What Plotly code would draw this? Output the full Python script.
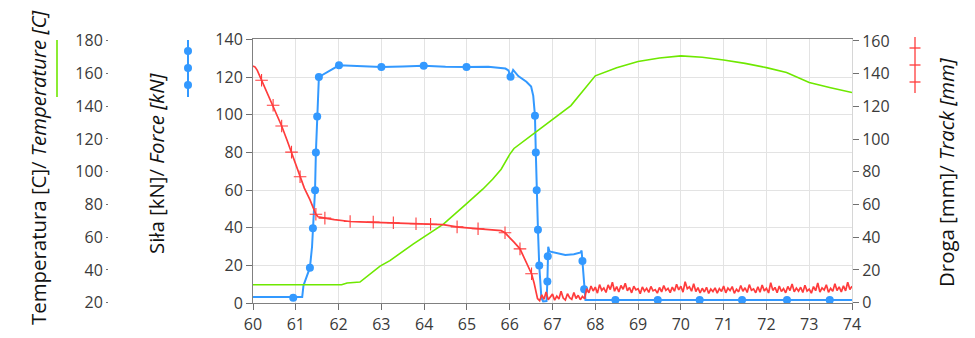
import numpy as np
import plotly.graph_objects as go

W, H = 975, 338

# ---------------- data ----------------
force_t = [60.0, 60.3, 60.6, 60.94, 61.15, 61.18, 61.33, 61.38, 61.40, 61.45, 61.47, 61.50, 61.54,
           62.01, 62.5, 63.0, 63.5, 63.99, 64.5, 64.99, 65.5, 65.9, 65.97, 66.02, 66.08, 66.12, 66.2,
           66.39, 66.5, 66.55, 66.59, 66.61, 66.63, 66.66, 66.69, 66.74, 66.78, 66.86, 66.88, 66.89,
           66.9, 66.93, 67.1, 67.3, 67.5, 67.66, 67.68, 67.7, 67.74, 67.77, 68.47, 69.46, 70.44,
           71.43, 72.48, 73.48, 74.0]
force_v = [3.3, 3.2, 3.4, 3.0, 3.3, 9.5, 18.9, 30, 39.8, 60, 80, 99, 120,
           126.2, 125.6, 125.3, 125.6, 126, 125.5, 125.3, 125.5, 124.5, 123.5, 120.2, 123.8, 122.5, 120.5,
           117.5, 115, 110, 99.5, 80, 60, 39, 20, 3, 1.0, 1.2, 11.5, 25,
           30, 27.5, 26.5, 25.6, 26, 27, 28, 22.4, 7.4, 1.8, 1.7, 1.7, 1.7,
           1.7, 1.7, 1.7, 1.7]
force_marker_t = [60.94, 61.33, 61.40, 61.45, 61.47, 61.50, 61.54, 62.01, 63.0, 63.99, 64.99, 66.02,
                  66.59, 66.61, 66.63, 66.66, 66.69, 66.89, 66.88, 67.7, 67.74, 68.47, 69.46, 70.44,
                  71.43, 72.48, 73.48]
force_marker_v = [3.0, 18.9, 39.8, 60, 80, 99, 120, 126.2, 125.3, 126, 125.3, 120.2,
                  99.5, 80, 60, 39, 20, 25, 11.5, 22.4, 7.4, 1.7, 1.7, 1.7,
                  1.7, 1.7, 1.7]

temp_t = [60.0, 62.07, 62.2, 62.5, 62.97, 63.2, 63.75, 64.45, 64.98, 65.37, 65.6, 65.8, 66.0, 66.1,
          66.6, 67.0, 67.43, 67.7, 68.0, 68.5, 69.0, 69.5, 70.0, 70.5, 71.0, 71.5, 72.0, 72.47,
          72.75, 73.0, 73.5, 74.0]
temp_v = [30.9, 30.9, 32.0, 32.6, 42.3, 45.7, 55.9, 68.0, 80.2, 89.3, 95.4, 101.5, 110.6, 114.2,
          124, 132, 140.4, 149, 158.6, 163.5, 167.3, 169.5, 170.8, 169.9, 168.3, 166.2, 163.6, 160.6,
          157.4, 154.5, 151.3, 148.4]

track_t_smooth = [60.0, 60.05, 60.1, 60.2, 60.3, 60.47, 60.6, 60.67, 60.8, 60.9, 61.0, 61.1, 61.2,
                  61.33, 61.42, 61.47, 61.52, 61.6, 61.72, 61.9, 62.1, 62.27, 62.5, 62.81, 63.0, 63.3,
                  63.82, 64.1, 64.44, 64.8, 65.0, 65.3, 65.5, 65.65, 65.8, 65.89, 66.0, 66.1, 66.24,
                  66.35, 66.45, 66.51, 66.57, 66.62]
track_v_smooth = [144.7, 144, 142, 136, 130, 120.7, 112, 108, 99, 92, 85, 77, 70,
                  63, 57, 54, 52.5, 52, 51.5, 50.8, 50, 49.6, 49.4, 49.2, 49, 48.8,
                  48.2, 48, 47.7, 46.2, 45.8, 45.1, 45, 44.7, 44, 42.7, 40, 37, 32.9,
                  27, 21, 17.7, 12, 6]
# noisy part, sampled every 0.05 s from 66.65 s
track_v_low = [2.5, 1.2, 4.8, 2.0, 6.5, 1.8, 3.5, 5.2, 1.5, 4.0, 2.2, 7.0, 2.8, 1.6, 5.5, 3.0,
               2.0, 6.2, 2.5, 4.5, 1.8, 3.8, 2.4]
track_v_end = [8.5, 6.0, 10.2, 7.1, 9.5, 5.8, 11.0, 7.5, 9.0, 6.2, 10.8, 8.0, 12.5, 7.0, 9.8, 6.5, 10.5, 8.2, 11.8, 7.3,
               9.2, 6.0, 10.0, 7.8, 8.5, 5.5, 9.6, 7.0, 8.8, 6.3, 9.9, 7.2, 8.0, 5.8, 9.3, 6.6, 10.4, 7.5, 8.7, 6.1,
               9.5, 7.0, 11.2, 7.8, 10.0, 6.4, 12.8, 8.5, 9.7, 7.0, 11.5, 6.8, 9.2, 5.9, 8.8, 6.5, 9.4, 5.6, 8.3, 6.8,
               9.0, 5.8, 8.6, 6.9, 10.1, 6.0, 8.9, 7.4, 9.8, 5.7, 8.2, 6.6, 10.5, 7.0, 9.1, 6.2, 11.0, 7.6, 8.4, 6.0,
               9.7, 6.4, 10.8, 7.2, 8.8, 5.9, 12.2, 7.5, 9.3, 6.1, 10.2, 6.8, 8.6, 6.0, 9.9, 7.4, 11.4, 6.6, 8.9, 7.0,
               9.4, 6.2, 10.6, 7.1, 8.3, 5.8, 9.8, 7.3, 12.0, 6.4, 9.0, 7.7, 10.9, 6.3, 8.7, 6.9, 11.6, 7.4, 9.6, 6.5,
               10.3, 7.2, 12.5, 8.0, 10.0]
track_marker_t = [60.2, 60.47, 60.67, 60.9, 61.1, 61.47, 61.68, 62.27, 62.81, 63.28, 63.81, 64.15,
                  64.77, 65.26, 65.89, 66.24, 66.51]

x_ticks = list(range(60, 75))

# sampling grid for the noisy part
t_low = [round(66.65 + 0.05 * i, 2) for i in range(len(track_v_low))]
t_end = [round(67.8 + 0.05 * i, 2) for i in range(len(track_v_end))]
track_t = track_t_smooth + t_low + t_end
track_v = track_v_smooth + track_v_low + track_v_end
track_marker_v = list(np.interp(track_marker_t, track_t_smooth, track_v_smooth))

# ---------------- style ----------------
BLUE = "#3399ff"
RED = "#ff3c3c"
GREEN = "#6ee800"
FONT = "Open Sans"
TICKCOL = "#3a3a3a"

def px(x):
    return x / W

def py(y):
    return 1 - y / H

x0p, x1p = 253, 852
y_top, y_bot = 39.3, 303.3

fig = go.Figure()
fig.add_trace(go.Scatter(x=temp_t, y=temp_v, yaxis="y2", mode="lines",
                         line=dict(color=GREEN, width=1.6), showlegend=False))
fig.add_trace(go.Scatter(x=track_t, y=track_v, yaxis="y3", mode="lines",
                         line=dict(color=RED, width=1.7), showlegend=False))
fig.add_trace(go.Scatter(x=track_marker_t, y=track_marker_v, yaxis="y3", mode="markers",
                         marker=dict(symbol="cross-thin", size=9, line=dict(color=RED, width=1.1)),
                         showlegend=False))
fig.add_trace(go.Scatter(x=force_t, y=force_v, yaxis="y", mode="lines",
                         line=dict(color=BLUE, width=2), showlegend=False))
fig.add_trace(go.Scatter(x=force_marker_t, y=force_marker_v, yaxis="y", mode="markers",
                         marker=dict(color=BLUE, size=8), showlegend=False))

tickfont = dict(family=FONT, size=16, color=TICKCOL)

fig.update_layout(
    width=W, height=H, template="none",
    margin=dict(l=0, r=0, t=0, b=0),
    paper_bgcolor="white", plot_bgcolor="white",
    showlegend=False,
    xaxis=dict(domain=[px(x0p), px(x1p)], range=[60, 74], tickvals=x_ticks,
               ticks="outside", ticklen=6, tickcolor="#707070",
               showgrid=True, gridcolor="#e3e3e3", gridwidth=1,
               showline=True, linecolor="#808080", linewidth=1, mirror=True,
               zeroline=False, tickfont=tickfont, automargin=False),
    yaxis=dict(domain=[py(y_bot), py(y_top)], range=[0, 140], dtick=20, tick0=0,
               ticks="outside", ticklen=6, tickcolor="#707070",
               showgrid=True, gridcolor="#e3e3e3", gridwidth=1,
               showline=True, linecolor="#808080", linewidth=1,
               zeroline=False, tickfont=tickfont, automargin=False),
    yaxis2=dict(overlaying="y", anchor="free", position=px(108), side="left",
                range=[19.6, 180.9], dtick=20, tick0=20,
                ticks="outside", ticklen=2, tickcolor="#707070",
                showgrid=False, showline=False, zeroline=False,
                tickfont=tickfont, automargin=False),
    yaxis3=dict(overlaying="y", anchor="x", side="right",
                range=[-0.4, 161], dtick=20, tick0=0,
                ticks="outside", ticklen=6, tickcolor="#707070",
                showgrid=False, showline=True, linecolor="#d6d6d6", linewidth=1,
                zeroline=False, tickfont=tickfont, automargin=False),
)

titlefont = dict(family=FONT, size=20.4, color="#111111")
fig.add_annotation(x=px(22), y=py(168), xref="paper", yref="paper", showarrow=False,
                   textangle=-90, text="Temperatura [C]/ <i>Temperature [C]</i>", font=titlefont)
fig.add_annotation(x=px(140), y=py(163), xref="paper", yref="paper", showarrow=False,
                   textangle=-90, text="Siła [kN]/ <i>Force [kN]</i>", font=titlefont)
fig.add_annotation(x=px(962), y=py(172), xref="paper", yref="paper", showarrow=False,
                   textangle=-90, text="Droga [mm]/ <i>Track [mm]</i>", font=titlefont)

shapes = []
# green legend icon
shapes.append(dict(type="line", xref="paper", yref="paper", x0=px(57), x1=px(57), y0=py(40), y1=py(97),
                   line=dict(color=GREEN, width=1.6)))
# blue legend icon
shapes.append(dict(type="line", xref="paper", yref="paper", x0=px(188), x1=px(188), y0=py(40), y1=py(97),
                   line=dict(color=BLUE, width=2)))
for cy in (51, 68, 85):
    shapes.append(dict(type="circle", xref="paper", yref="paper", x0=px(184), x1=px(192),
                       y0=py(cy + 4), y1=py(cy - 4), fillcolor=BLUE, line=dict(color=BLUE, width=0)))
# red legend icon
shapes.append(dict(type="line", xref="paper", yref="paper", x0=px(915), x1=px(915), y0=py(37), y1=py(93),
                   line=dict(color=RED, width=1.3)))
for cy in (48, 65, 82):
    shapes.append(dict(type="line", xref="paper", yref="paper", x0=px(909.5), x1=px(920.5),
                       y0=py(cy), y1=py(cy), line=dict(color=RED, width=1.3)))
fig.update_layout(shapes=shapes)

fig.write_html("out.html", config={"displayModeBar": False},
               post_script="document.body.style.margin='0';document.body.style.overflow='hidden';")
